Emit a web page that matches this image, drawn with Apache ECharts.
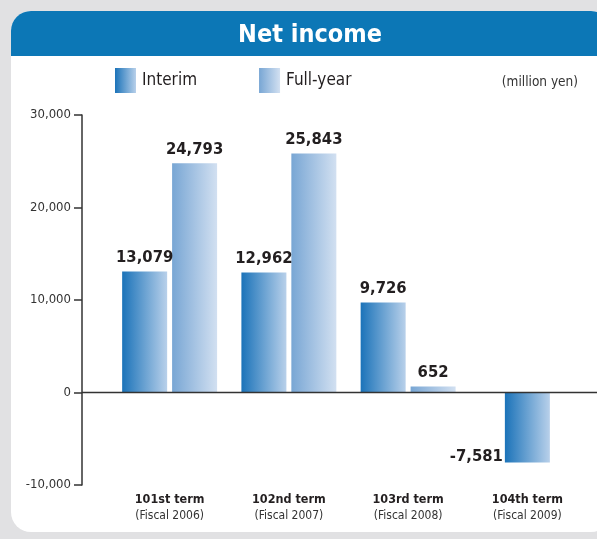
<!DOCTYPE html>
<html>
<head>
<meta charset="utf-8">
<script src="https://cdn.jsdelivr.net/npm/echarts@6/dist/echarts.min.js"></script>
<style>
  html, body { margin: 0; padding: 0; background: #e1e1e3; width: 597px; height: 539px; overflow: hidden; }
  #panel { position: absolute; left: 11px; top: 11px; width: 600px; height: 521px; background: #ffffff; border-radius: 20px; overflow: hidden; }
  #header { position: absolute; left: 0; top: 0; width: 100%; height: 45px; background: #0c77b6; }
  #chart { position: absolute; left: 0; top: 0; width: 597px; height: 539px; }
</style>
</head>
<body>
<div id="panel"><div id="header"></div></div>
<div id="chart"></div>
<script>
const categories = ['101st term', '102nd term', '103rd term', '104th term'];
const fiscalYears = ['(Fiscal 2006)', '(Fiscal 2007)', '(Fiscal 2008)', '(Fiscal 2009)'];
const interim = [13079, 12962, 9726, -7581];
const fullYear = [24793, 25843, 652, null];
const yTicks = [-10000, 0, 10000, 20000, 30000];

const FONT = '"Liberation Sans Narrow", "DejaVu Sans Condensed", "Liberation Sans", sans-serif';
const fmt = v => Number(v).toLocaleString('en-US');

const interimColor = new echarts.graphic.LinearGradient(0, 0, 1, 0, [
  { offset: 0, color: '#1b73b9' }, { offset: 1, color: '#b8d0ea' }
]);
const fullColor = new echarts.graphic.LinearGradient(0, 0, 1, 0, [
  { offset: 0, color: '#78a6d4' }, { offset: 1, color: '#d2e0f1' }
]);

const valueLabel = {
  show: true, position: 'top', distance: 5,
  fontFamily: FONT, fontWeight: 'bold', fontSize: 16.5, color: '#231f20',
  formatter: p => fmt(p.value)
};

const chart = echarts.init(document.getElementById('chart'), null, { renderer: 'canvas' });
chart.setOption({
  backgroundColor: 'transparent',
  animation: false,
  title: [
    { text: 'Net income', left: 305, textAlign: 'center', top: 18,
      textStyle: { color: '#ffffff', fontFamily: FONT, fontWeight: 'bold', fontSize: 25 } },
    { text: '(million yen)', right: 14, top: 70,
      textStyle: { color: '#333333', fontFamily: FONT, fontWeight: 'normal', fontSize: 13.5 } }
  ],
  legend: {
    left: 115, top: 68, padding: 0, itemWidth: 21, itemHeight: 25, itemGap: 62, icon: 'rect',
    data: ['Interim', 'Full-year'],
    textStyle: { fontFamily: FONT, fontSize: 17, color: '#231f20', padding: [0, 0, 0, 1] },
    selectedMode: false
  },
  grid: { left: 110, right: 10, top: 115, height: 370 },
  xAxis: [
    {
      type: 'category', data: categories,
      axisLine: { show: false, onZero: false }, axisTick: { show: false },
      axisLabel: {
        margin: 7,
        formatter: (v, i) => '{a|' + v + '}\n{b|' + fiscalYears[i] + '}',
        rich: {
          a: { fontFamily: FONT, fontWeight: 'bold', fontSize: 12.5, color: '#231f20', lineHeight: 16 },
          b: { fontFamily: FONT, fontSize: 12, color: '#333333', lineHeight: 15 }
        }
      }
    },
    { type: 'category', data: categories, show: false }
  ],
  yAxis: {
    type: 'value', min: yTicks[0], max: yTicks[yTicks.length - 1], interval: 10000,
    offset: 28,
    axisLine: { show: true, lineStyle: { color: '#333333', width: 1.5 } },
    axisTick: { show: true, length: 8, lineStyle: { color: '#333333', width: 1.5 } },
    splitLine: { show: false },
    axisLabel: { margin: 11, fontFamily: FONT, fontSize: 13, color: '#333333', formatter: v => fmt(v) }
  },
  series: [
    { name: 'Interim', type: 'bar', barWidth: 45, barGap: '11%',
      data: interim.map((v, i) => fullYear[i] == null ? '-' : v),
      itemStyle: { color: interimColor }, label: valueLabel },
    { name: 'Full-year', type: 'bar', barWidth: 45, barGap: '11%',
      data: fullYear.map(v => v == null ? '-' : v),
      itemStyle: { color: fullColor }, label: valueLabel },
    { name: 'Interim', type: 'bar', xAxisIndex: 1, barWidth: 45,
      data: interim.map((v, i) => fullYear[i] == null ? v : '-'),
      itemStyle: { color: interimColor },
      label: Object.assign({}, valueLabel, { position: [-2, '100%'], align: 'right', verticalAlign: 'bottom', offset: [0, 3] }) }
  ]
});

const y0 = chart.convertToPixel({ yAxisIndex: 0 }, 0);
chart.setOption({
  graphic: [{ type: 'line', z: 100, shape: { x1: 82, y1: y0, x2: 597, y2: y0 },
    style: { stroke: '#333333', lineWidth: 1.5 } }]
});
</script>
</body>
</html>
